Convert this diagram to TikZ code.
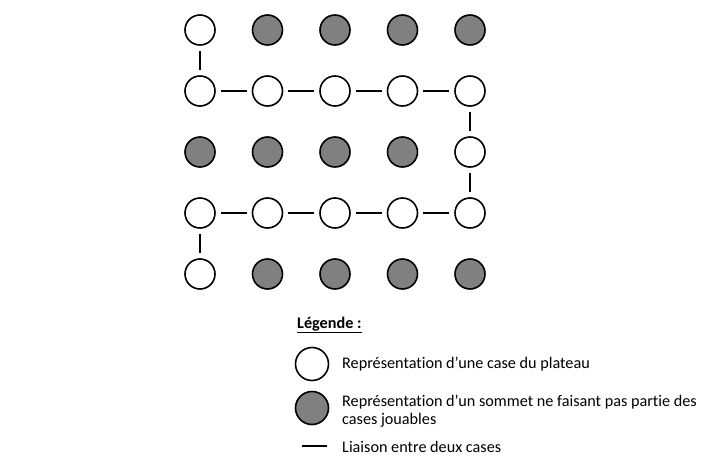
\documentclass[tikz,border=0pt]{standalone}
\usepackage{fontspec}
\setmainfont[Ligatures=NoCommon]{Carlito}
\usepackage{tikz}
\tikzset{x=1pt,y=-1pt}
\tikzset{case/.style={circle,draw,line width=1.6pt,minimum size=30pt,inner sep=0pt,fill=white}}
\tikzset{sommet/.style={case,fill=gray}}
\tikzset{liaison/.style={line width=1.8pt,shorten <=5pt,shorten >=5pt}}
\tikzset{texte/.style={anchor=west,inner sep=0pt,align=left,font=\fontsize{16.2}{18}\selectfont}}

\begin{document}
\begin{tikzpicture}
  \useasboundingbox (0,0) rectangle (715,471);

  % cases du plateau
  \foreach \c/\r in {1/1,1/2,2/2,3/2,4/2,5/2,5/3,1/4,2/4,3/4,4/4,5/4,1/5}
    \node[case] (n\c\r) at ({200+67.5*(\c-1)},{30+61*(\r-1)}) {};
  % sommets hors plateau
  \foreach \c/\r in {2/1,3/1,4/1,5/1,1/3,2/3,3/3,4/3,2/5,3/5,4/5,5/5}
    \node[sommet] (n\c\r) at ({200+67.5*(\c-1)},{30+61*(\r-1)}) {};

  % liaisons
  \foreach \a/\b in {11/12,12/22,22/32,32/42,42/52,52/53,53/54,54/44,44/34,34/24,24/14,14/15}
    \draw[liaison] (n\a) -- (n\b);

  % legende
  \node[texte] (titre) at (297,325) {\underline{\textbf{Légende :}}};

  \node[case,minimum size=33pt] (lcase) at (312,364) {};
  \node[texte] (tcase) at (342,364) {Représentation d’une case du plateau};

  \node[sommet,minimum size=33pt] (lsommet) at (312,408) {};
  \node[texte] (tsommet) at (342,411) {Représentation d’un sommet ne faisant pas partie des\\cases jouables};

  \coordinate (la) at (302,446);
  \coordinate (lb) at (327,446);
  \draw[line width=1.8pt] (la) -- (lb);
  \node[texte] (tliaison) at (342,447) {Liaison entre deux cases};
\end{tikzpicture}
\end{document}
